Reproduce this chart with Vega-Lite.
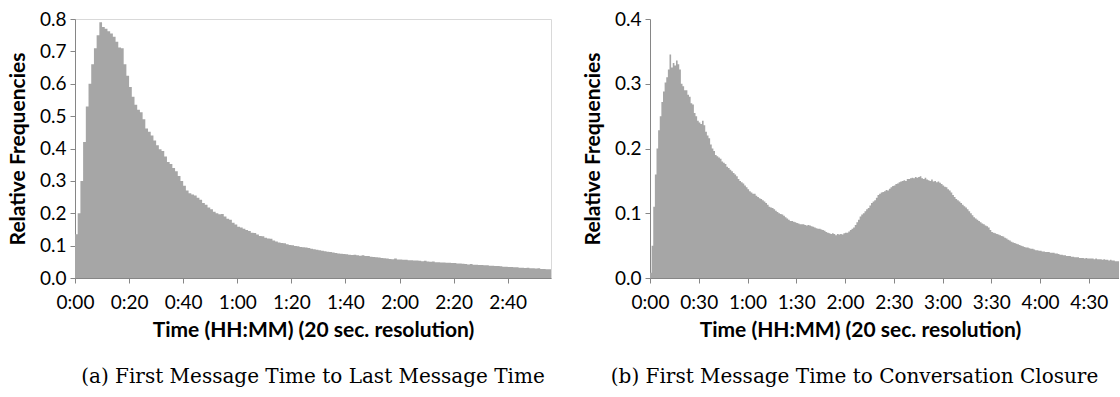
{
"$schema": "https://vega.github.io/schema/vega-lite/v6.json",
"background": "white",
"padding": {"left": 6, "top": 9, "right": 0, "bottom": 0},
"spacing": 30,
"config": {
 "font": "Lato",
 "view": {"stroke": "#d9d9d9"},
 "axis": {"grid": false, "domainColor": "#868686", "tickColor": "#868686", "tickSize": 5, "labelFont": "Lato", "labelFontSize": 19, "labelColor": "#000000", "titleFont": "Lato", "titleFontSize": 21, "titleFontWeight": "bold", "titleColor": "#000000", "labelFlush": false, "labelOverlap": false},
 "axisX": {"labelPadding": 10, "titlePadding": 7},
 "axisY": {"labelPadding": 4, "titlePadding": 11},
 "title": {"font": "DejaVu Serif", "fontSize": 20, "fontWeight": "normal", "color": "#000000", "orient": "bottom", "anchor": "middle", "offset": 27}
},
"datasets": {
"a": [
{"t":0,"f":0.135},{"t":1,"f":0.2},{"t":2,"f":0.3},{"t":3,"f":0.42},{"t":4,"f":0.53},{"t":5,"f":0.6},{"t":6,"f":0.66},{"t":7,"f":0.71},{"t":8,"f":0.75},{"t":9,"f":0.79},
{"t":10,"f":0.775},{"t":11,"f":0.77},{"t":12,"f":0.762},{"t":13,"f":0.755},{"t":14,"f":0.745},{"t":15,"f":0.73},{"t":16,"f":0.712},{"t":17,"f":0.71},{"t":18,"f":0.66},{"t":19,"f":0.625},
{"t":20,"f":0.59},{"t":21,"f":0.56},{"t":22,"f":0.535},{"t":23,"f":0.52},{"t":24,"f":0.512},{"t":25,"f":0.49},{"t":26,"f":0.462},{"t":27,"f":0.452},{"t":28,"f":0.44},{"t":29,"f":0.425},
{"t":30,"f":0.41},{"t":31,"f":0.398},{"t":32,"f":0.392},{"t":33,"f":0.375},{"t":34,"f":0.358},{"t":35,"f":0.352},{"t":36,"f":0.34},{"t":37,"f":0.33},{"t":38,"f":0.315},{"t":39,"f":0.3},
{"t":40,"f":0.285},{"t":41,"f":0.27},{"t":42,"f":0.262},{"t":43,"f":0.258},{"t":44,"f":0.255},{"t":45,"f":0.248},{"t":46,"f":0.242},{"t":47,"f":0.232},{"t":48,"f":0.226},{"t":49,"f":0.218},
{"t":50,"f":0.212},{"t":51,"f":0.205},{"t":52,"f":0.2},{"t":53,"f":0.197},{"t":54,"f":0.198},{"t":55,"f":0.19},{"t":56,"f":0.183},{"t":57,"f":0.18},{"t":58,"f":0.171},{"t":59,"f":0.165},
{"t":60,"f":0.158},{"t":61,"f":0.156},{"t":62,"f":0.152},{"t":63,"f":0.148},{"t":64,"f":0.145},{"t":65,"f":0.14},{"t":66,"f":0.139},{"t":67,"f":0.134},{"t":68,"f":0.13},{"t":69,"f":0.129},
{"t":70,"f":0.124},{"t":71,"f":0.122},{"t":72,"f":0.121},{"t":73,"f":0.116},{"t":74,"f":0.113},{"t":75,"f":0.11},{"t":76,"f":0.108},{"t":77,"f":0.107},{"t":78,"f":0.104},{"t":79,"f":0.102},
{"t":80,"f":0.101},{"t":81,"f":0.099},{"t":82,"f":0.098},{"t":83,"f":0.096},{"t":84,"f":0.095},{"t":85,"f":0.094},{"t":86,"f":0.093},{"t":87,"f":0.09},{"t":88,"f":0.089},{"t":89,"f":0.087},
{"t":90,"f":0.086},{"t":91,"f":0.084},{"t":92,"f":0.083},{"t":93,"f":0.081},{"t":94,"f":0.08},{"t":95,"f":0.079},{"t":96,"f":0.077},{"t":97,"f":0.076},{"t":98,"f":0.075},{"t":99,"f":0.074},
{"t":100,"f":0.073},{"t":101,"f":0.072},{"t":102,"f":0.071},{"t":103,"f":0.072},{"t":104,"f":0.07},{"t":105,"f":0.069},{"t":106,"f":0.07},{"t":107,"f":0.068},{"t":108,"f":0.068},{"t":109,"f":0.066},
{"t":110,"f":0.065},{"t":111,"f":0.064},{"t":112,"f":0.063},{"t":113,"f":0.062},{"t":114,"f":0.061},{"t":115,"f":0.06},{"t":116,"f":0.059},{"t":117,"f":0.058},{"t":118,"f":0.06},{"t":119,"f":0.057},
{"t":120,"f":0.057},{"t":121,"f":0.056},{"t":122,"f":0.056},{"t":123,"f":0.055},{"t":124,"f":0.055},{"t":125,"f":0.054},{"t":126,"f":0.054},{"t":127,"f":0.053},{"t":128,"f":0.052},{"t":129,"f":0.053},
{"t":130,"f":0.051},{"t":131,"f":0.05},{"t":132,"f":0.051},{"t":133,"f":0.049},{"t":134,"f":0.049},{"t":135,"f":0.048},{"t":136,"f":0.048},{"t":137,"f":0.047},{"t":138,"f":0.047},{"t":139,"f":0.046},
{"t":140,"f":0.046},{"t":141,"f":0.045},{"t":142,"f":0.045},{"t":143,"f":0.044},{"t":144,"f":0.043},{"t":145,"f":0.042},{"t":146,"f":0.043},{"t":147,"f":0.041},{"t":148,"f":0.041},{"t":149,"f":0.04},
{"t":150,"f":0.04},{"t":151,"f":0.039},{"t":152,"f":0.039},{"t":153,"f":0.038},{"t":154,"f":0.038},{"t":155,"f":0.037},{"t":156,"f":0.037},{"t":157,"f":0.036},{"t":158,"f":0.035},{"t":159,"f":0.035},
{"t":160,"f":0.034},{"t":161,"f":0.034},{"t":162,"f":0.033},{"t":163,"f":0.033},{"t":164,"f":0.032},{"t":165,"f":0.032},{"t":166,"f":0.031},{"t":167,"f":0.032},{"t":168,"f":0.03},{"t":169,"f":0.03},
{"t":170,"f":0.029},{"t":171,"f":0.03},{"t":172,"f":0.028},{"t":173,"f":0.028},{"t":174,"f":0.027},{"t":175,"f":0.027},{"t":176,"f":0.026}
],
"b": [
{"t":0,"f":0.008},{"t":1,"f":0.05},{"t":2,"f":0.11},{"t":3,"f":0.16},{"t":4,"f":0.2},{"t":5,"f":0.228},{"t":6,"f":0.25},{"t":7,"f":0.272},{"t":8,"f":0.288},{"t":9,"f":0.302},
{"t":10,"f":0.31},{"t":11,"f":0.322},{"t":12,"f":0.345},{"t":13,"f":0.325},{"t":14,"f":0.332},{"t":15,"f":0.328},{"t":16,"f":0.336},{"t":17,"f":0.33},{"t":18,"f":0.322},{"t":19,"f":0.3},
{"t":20,"f":0.296},{"t":21,"f":0.29},{"t":22,"f":0.29},{"t":23,"f":0.283},{"t":24,"f":0.28},{"t":25,"f":0.27},{"t":26,"f":0.268},{"t":27,"f":0.255},{"t":28,"f":0.25},{"t":29,"f":0.243},
{"t":30,"f":0.24},{"t":31,"f":0.238},{"t":32,"f":0.243},{"t":33,"f":0.236},{"t":34,"f":0.226},{"t":35,"f":0.22},{"t":36,"f":0.216},{"t":37,"f":0.206},{"t":38,"f":0.2},{"t":39,"f":0.196},
{"t":40,"f":0.19},{"t":41,"f":0.188},{"t":42,"f":0.186},{"t":43,"f":0.184},{"t":44,"f":0.18},{"t":45,"f":0.178},{"t":46,"f":0.176},{"t":47,"f":0.172},{"t":48,"f":0.17},{"t":49,"f":0.167},
{"t":50,"f":0.165},{"t":51,"f":0.162},{"t":52,"f":0.16},{"t":53,"f":0.157},{"t":54,"f":0.153},{"t":55,"f":0.15},{"t":56,"f":0.148},{"t":57,"f":0.146},{"t":58,"f":0.143},{"t":59,"f":0.14},
{"t":60,"f":0.137},{"t":61,"f":0.134},{"t":62,"f":0.132},{"t":63,"f":0.13},{"t":64,"f":0.13},{"t":65,"f":0.127},{"t":66,"f":0.125},{"t":67,"f":0.123},{"t":68,"f":0.122},{"t":69,"f":0.12},
{"t":70,"f":0.118},{"t":71,"f":0.116},{"t":72,"f":0.113},{"t":73,"f":0.11},{"t":74,"f":0.109},{"t":75,"f":0.108},{"t":76,"f":0.106},{"t":77,"f":0.104},{"t":78,"f":0.102},{"t":79,"f":0.1},
{"t":80,"f":0.099},{"t":81,"f":0.098},{"t":82,"f":0.096},{"t":83,"f":0.094},{"t":84,"f":0.092},{"t":85,"f":0.09},{"t":86,"f":0.088},{"t":87,"f":0.088},{"t":88,"f":0.087},{"t":89,"f":0.086},
{"t":90,"f":0.085},{"t":91,"f":0.084},{"t":92,"f":0.083},{"t":93,"f":0.083},{"t":94,"f":0.083},{"t":95,"f":0.082},{"t":96,"f":0.081},{"t":97,"f":0.082},{"t":98,"f":0.081},{"t":99,"f":0.08},
{"t":100,"f":0.079},{"t":101,"f":0.078},{"t":102,"f":0.077},{"t":103,"f":0.076},{"t":104,"f":0.076},{"t":105,"f":0.075},{"t":106,"f":0.074},{"t":107,"f":0.073},{"t":108,"f":0.071},{"t":109,"f":0.07},
{"t":110,"f":0.069},{"t":111,"f":0.068},{"t":112,"f":0.069},{"t":113,"f":0.068},{"t":114,"f":0.066},{"t":115,"f":0.068},{"t":116,"f":0.067},{"t":117,"f":0.068},{"t":118,"f":0.067},{"t":119,"f":0.069},
{"t":120,"f":0.07},{"t":121,"f":0.07},{"t":122,"f":0.072},{"t":123,"f":0.074},{"t":124,"f":0.076},{"t":125,"f":0.078},{"t":126,"f":0.082},{"t":127,"f":0.086},{"t":128,"f":0.09},{"t":129,"f":0.095},
{"t":130,"f":0.098},{"t":131,"f":0.1},{"t":132,"f":0.103},{"t":133,"f":0.106},{"t":134,"f":0.108},{"t":135,"f":0.112},{"t":136,"f":0.116},{"t":137,"f":0.118},{"t":138,"f":0.12},{"t":139,"f":0.124},
{"t":140,"f":0.128},{"t":141,"f":0.13},{"t":142,"f":0.132},{"t":143,"f":0.133},{"t":144,"f":0.134},{"t":145,"f":0.136},{"t":146,"f":0.135},{"t":147,"f":0.138},{"t":148,"f":0.14},{"t":149,"f":0.142},
{"t":150,"f":0.143},{"t":151,"f":0.145},{"t":152,"f":0.146},{"t":153,"f":0.148},{"t":154,"f":0.149},{"t":155,"f":0.15},{"t":156,"f":0.151},{"t":157,"f":0.15},{"t":158,"f":0.153},{"t":159,"f":0.153},
{"t":160,"f":0.154},{"t":161,"f":0.155},{"t":162,"f":0.154},{"t":163,"f":0.156},{"t":164,"f":0.155},{"t":165,"f":0.156},{"t":166,"f":0.157},{"t":167,"f":0.154},{"t":168,"f":0.153},{"t":169,"f":0.155},
{"t":170,"f":0.152},{"t":171,"f":0.151},{"t":172,"f":0.15},{"t":173,"f":0.152},{"t":174,"f":0.149},{"t":175,"f":0.15},{"t":176,"f":0.148},{"t":177,"f":0.149},{"t":178,"f":0.147},{"t":179,"f":0.145},
{"t":180,"f":0.143},{"t":181,"f":0.141},{"t":182,"f":0.14},{"t":183,"f":0.137},{"t":184,"f":0.135},{"t":185,"f":0.132},{"t":186,"f":0.128},{"t":187,"f":0.125},{"t":188,"f":0.122},{"t":189,"f":0.12},
{"t":190,"f":0.118},{"t":191,"f":0.116},{"t":192,"f":0.113},{"t":193,"f":0.111},{"t":194,"f":0.109},{"t":195,"f":0.106},{"t":196,"f":0.103},{"t":197,"f":0.1},{"t":198,"f":0.097},{"t":199,"f":0.094},
{"t":200,"f":0.092},{"t":201,"f":0.09},{"t":202,"f":0.088},{"t":203,"f":0.086},{"t":204,"f":0.084},{"t":205,"f":0.083},{"t":206,"f":0.081},{"t":207,"f":0.08},{"t":208,"f":0.078},{"t":209,"f":0.074},
{"t":210,"f":0.071},{"t":211,"f":0.07},{"t":212,"f":0.069},{"t":213,"f":0.068},{"t":214,"f":0.067},{"t":215,"f":0.066},{"t":216,"f":0.065},{"t":217,"f":0.064},{"t":218,"f":0.062},{"t":219,"f":0.061},
{"t":220,"f":0.059},{"t":221,"f":0.058},{"t":222,"f":0.056},{"t":223,"f":0.055},{"t":224,"f":0.054},{"t":225,"f":0.053},{"t":226,"f":0.052},{"t":227,"f":0.051},{"t":228,"f":0.05},{"t":229,"f":0.049},
{"t":230,"f":0.048},{"t":231,"f":0.047},{"t":232,"f":0.047},{"t":233,"f":0.046},{"t":234,"f":0.045},{"t":235,"f":0.045},{"t":236,"f":0.044},{"t":237,"f":0.043},{"t":238,"f":0.043},{"t":239,"f":0.042},
{"t":240,"f":0.042},{"t":241,"f":0.041},{"t":242,"f":0.041},{"t":243,"f":0.04},{"t":244,"f":0.04},{"t":245,"f":0.04},{"t":246,"f":0.039},{"t":247,"f":0.039},{"t":248,"f":0.039},{"t":249,"f":0.038},
{"t":250,"f":0.038},{"t":251,"f":0.037},{"t":252,"f":0.036},{"t":253,"f":0.036},{"t":254,"f":0.035},{"t":255,"f":0.035},{"t":256,"f":0.034},{"t":257,"f":0.034},{"t":258,"f":0.034},{"t":259,"f":0.033},
{"t":260,"f":0.033},{"t":261,"f":0.032},{"t":262,"f":0.032},{"t":263,"f":0.032},{"t":264,"f":0.031},{"t":265,"f":0.031},{"t":266,"f":0.031},{"t":267,"f":0.03},{"t":268,"f":0.031},{"t":269,"f":0.03},
{"t":270,"f":0.03},{"t":271,"f":0.03},{"t":272,"f":0.03},{"t":273,"f":0.029},{"t":274,"f":0.03},{"t":275,"f":0.029},{"t":276,"f":0.029},{"t":277,"f":0.029},{"t":278,"f":0.028},{"t":279,"f":0.029},
{"t":280,"f":0.028},{"t":281,"f":0.028},{"t":282,"f":0.027},{"t":283,"f":0.028},{"t":284,"f":0.027},{"t":285,"f":0.027},{"t":286,"f":0.026},{"t":287,"f":0.026},{"t":288,"f":0.026},{"t":289,"f":0.026},{"t":290,"f":0.025}
]
},
"hconcat": [
 {
  "width": 476, "height": 259,
  "data": {"name": "a"},
  "title": {"text": "(a) First Message Time to Last Message Time"},
  "mark": {"type": "area", "interpolate": "step-after", "color": "#a6a6a6", "clip": true},
  "encoding": {
   "x": {"field": "t", "type": "quantitative", "scale": {"domain": [0, 176], "nice": false, "zero": false},
     "axis": {"values": [0,20,40,60,80,100,120,140,160], "title": "Time (HH:MM) (20 sec. resolution)",
       "labelExpr": "floor(datum.value/60) + ':' + (datum.value % 60 < 10 ? '0' : '') + (datum.value % 60)"}},
   "y": {"field": "f", "type": "quantitative", "scale": {"domain": [0, 0.8], "nice": false},
     "axis": {"values": [0,0.1,0.2,0.3,0.4,0.5,0.6,0.7,0.8], "format": ".1f", "title": "Relative Frequencies"}}
  }
 },
 {
  "width": 469, "height": 259,
  "view": {"stroke": null},
  "title": {"text": "(b) First Message Time to Conversation Closure", "dx": -30},
  "layer": [
   {
    "data": {"name": "b"},
    "mark": {"type": "area", "interpolate": "step-after", "color": "#a6a6a6", "clip": true},
    "encoding": {
     "x": {"field": "t", "type": "quantitative", "scale": {"domain": [0, 288.6], "nice": false, "zero": false},
       "axis": {"values": [0,30,60,90,120,150,180,210,240,270], "title": "Time (HH:MM) (20 sec. resolution)", "titleX": 210,
         "labelExpr": "floor(datum.value/60) + ':' + (datum.value % 60 < 10 ? '0' : '') + (datum.value % 60)"}},
     "y": {"field": "f", "type": "quantitative", "scale": {"domain": [0, 0.4], "nice": false},
       "axis": {"values": [0,0.1,0.2,0.3,0.4], "format": ".1f", "title": "Relative Frequencies"}}
    }
   },
   {
    "mark": {"type": "rule", "color": "#d9d9d9", "strokeWidth": 1},
    "encoding": {"y": {"datum": 0.4}}
   }
  ]
 }
]
}
